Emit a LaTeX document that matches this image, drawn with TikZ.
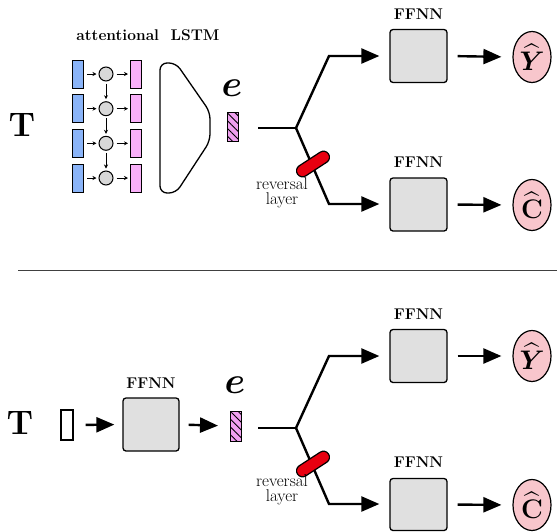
\documentclass[tikz,border=0pt]{standalone}
\usepackage{graphicx}
\usepackage{amsmath,bm}
\usetikzlibrary{arrows.meta,patterns.meta,shapes.geometric}
\definecolor{lblue}{HTML}{8AB4F8}
\definecolor{lpink}{HTML}{F9B0F9}
\definecolor{epink}{HTML}{EFA0EF}
\definecolor{opink}{HTML}{F8C6CC}
\definecolor{boxgray}{HTML}{E0E0E0}
\definecolor{cgray}{HTML}{D8D8D8}
\definecolor{rred}{HTML}{E80010}
\newcommand{\bigmath}[2]{\scalebox{#1}{$#2$}}
\tikzset{
 ffnn/.style={draw, line width=1.3pt, rounded corners=3pt, fill=boxgray, minimum width=57pt, minimum height=53pt, inner sep=0pt},
 lbl/.style={font=\fontsize{15.5}{16}\selectfont\bfseries, inner sep=0pt},
 outn/.style={ellipse, draw, line width=1.2pt, fill=opink, minimum width=38pt, minimum height=51pt, inner sep=0pt, font=\fontsize{24.88}{25}\selectfont},
 bigarr/.style={line width=2.4pt, -{Triangle[length=18pt,width=15pt]}},
 conn/.style={line width=2.4pt},
 bluebar/.style={draw, line width=1pt, fill=lblue, minimum width=11pt, minimum height=28pt, inner sep=0pt},
 pinkbar/.style={draw, line width=1pt, fill=lpink, minimum width=11pt, minimum height=28pt, inner sep=0pt},
 inbar/.style={draw, line width=1.2pt, fill=white, minimum width=12pt, minimum height=30pt, inner sep=0pt},
 cell/.style={circle, draw, line width=1pt, fill=cgray, minimum size=14pt, inner sep=0pt},
 smallarr/.style={line width=0.8pt, -{Stealth[length=4pt,width=4pt]}},
 ebar/.style={draw, line width=1pt, minimum width=11pt, minimum height=29pt, inner sep=0pt, preaction={fill=epink}, pattern={Lines[angle=-45,distance=5.5pt,line width=0.9pt]}},
 pill/.style={draw, line width=1.2pt, fill=rred, rounded corners=6pt, minimum width=37pt, minimum height=12pt, inner sep=0pt, rotate=33},
 bigT/.style={font=\fontsize{34}{34}\selectfont\bfseries, inner sep=0pt},
 etext/.style={font=\fontsize{24.88}{25}\selectfont, inner sep=0pt},
 rev/.style={font=\fontsize{17}{14.5}\selectfont, align=center, inner sep=0pt},
}
\begin{document}
\begin{tikzpicture}[x=1pt,y=-1pt]
\useasboundingbox (0,0) rectangle (557,531);
% ---------- top panel ----------
\node[bigT] (T1) at (22,125) {T};
\node[lbl] (att) at (148,35) {attentional\ \ LSTM};
\foreach \i/\y in {1/74,2/108.7,3/143.3,4/178}{
  \node[bluebar] (b\i) at (78,\y) {};
  \node[cell] (c\i) at (106,\y) {};
  \node[pinkbar] (p\i) at (136,\y) {};
  \draw[smallarr, shorten <=3pt, shorten >=2pt] (b\i) -- (c\i);
  \draw[smallarr, shorten <=3pt, shorten >=2pt] (c\i) -- (p\i);
}
\draw[smallarr, shorten <=2pt, shorten >=2pt] (c1) -- (c2);
\draw[smallarr, shorten <=2pt, shorten >=2pt] (c2) -- (c3);
\draw[smallarr, shorten <=2pt, shorten >=2pt] (c3) -- (c4);
\draw[line width=1.3pt, rounded corners=7pt] (160,128) -- (160,63) -- (176,63) -- (210,112) -- (210,141) -- (176,193) -- (160,193) -- cycle;
\node[etext] (e1) at (232,88) {\bigmath{1.5}{\bm{e}}};
\node[ebar] (eb1) at (233,126.5) {};
\coordinate (s1) at (258,128);
\coordinate (j1) at (296,128);
\coordinate (u1) at (329,56);
\coordinate (d1) at (329,204);
\node[ffnn] (fa1) at (418.5,56) {};
\node[lbl] (la1) at (418.5,14) {FFNN};
\node[ffnn] (fb1) at (418.5,204.5) {};
\node[lbl] (lb1) at (418.5,162) {FFNN};
\node[outn] (y1) at (532,57) {\bigmath{1.08}{\widehat{\bm{Y}}}};
\node[outn] (cc1) at (532,205) {\bigmath{1.08}{\widehat{\mathbf{C}}}};
\draw[conn] (s1) -- (j1);
\draw[bigarr, shorten >=10pt] (j1) -- (u1) -- (u1 -| fa1.west);
\draw[bigarr, shorten >=10pt] (j1) -- (d1) -- (d1 -| fb1.west);
\draw[bigarr, shorten <=10pt, shorten >=11pt] (fa1.east) -- (y1.west);
\draw[bigarr, shorten <=10pt, shorten >=11pt] (fb1.east) -- (cc1.west);
\node[pill] (r1) at (313,164) {};
\node[rev] (rt1) at (282,193) {reversal\\layer};
% ---------- separator ----------
\coordinate (sepa) at (18,270);
\coordinate (sepb) at (557,270);
\draw[line width=1pt, draw=black!75] (sepa) -- (sepb);
% ---------- bottom panel ----------
\node[bigT] (T2) at (20,423) {T};
\node[inbar] (w2) at (67,425) {};
\node[ffnn, minimum width=56pt] (fm2) at (151,424.5) {};
\node[lbl] (lm2) at (151,383) {FFNN};
\node[etext] (e2) at (235,385) {\bigmath{1.5}{\bm{e}}};
\node[ebar, minimum height=30pt] (eb2) at (236,426) {};
\draw[bigarr, shorten <=12pt, shorten >=8pt] (w2.east) -- (fm2.west);
\draw[bigarr, shorten <=9pt, shorten >=12pt] (fm2.east) -- (eb2.west);
\coordinate (s2) at (258,428);
\coordinate (j2) at (296,428);
\coordinate (u2) at (329,356);
\coordinate (d2) at (329,504);
\node[ffnn] (fa2) at (418.5,356) {};
\node[lbl] (la2) at (418.5,314) {FFNN};
\node[ffnn, minimum height=52pt] (fb2) at (418.5,504.5) {};
\node[lbl] (lb2) at (418.5,462) {FFNN};
\node[outn] (y2) at (532,356) {\bigmath{1.08}{\widehat{\bm{Y}}}};
\node[outn] (cc2) at (532,505) {\bigmath{1.08}{\widehat{\mathbf{C}}}};
\draw[conn] (s2) -- (j2);
\draw[bigarr, shorten >=10pt] (j2) -- (u2) -- (u2 -| fa2.west);
\draw[bigarr, shorten >=10pt] (j2) -- (d2) -- (d2 -| fb2.west);
\draw[bigarr, shorten <=10pt, shorten >=11pt] (fa2.east) -- (y2.west);
\draw[bigarr, shorten <=10pt, shorten >=11pt] (fb2.east) -- (cc2.west);
\node[pill] (r2) at (313,464) {};
\node[rev] (rt2) at (282,490) {reversal\\layer};
\end{tikzpicture}
\end{document}
